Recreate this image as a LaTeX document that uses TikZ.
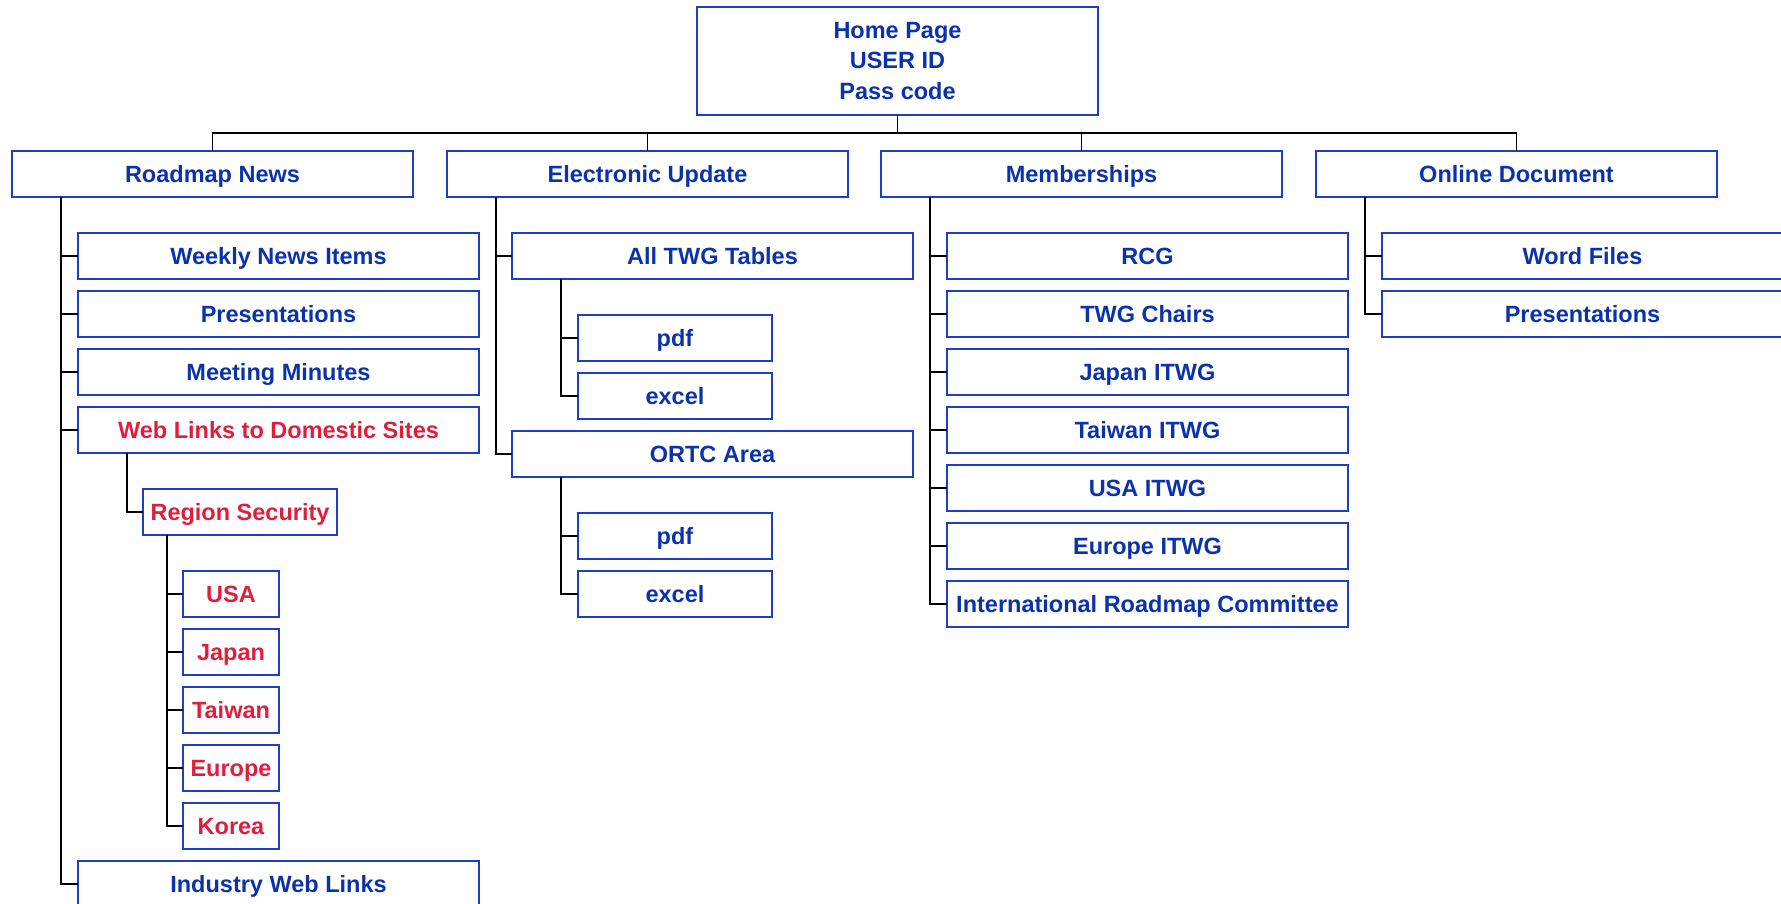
\documentclass[tikz,border=0pt]{standalone}
\usepackage{fontspec}
\setmainfont{Liberation Sans}
\definecolor{txtblue}{RGB}{10,50,170}
\definecolor{txtred}{RGB}{222,30,60}
\definecolor{boxblue}{RGB}{30,62,200}
\tikzset{
  box/.style={draw=boxblue, line width=1.8pt, anchor=north west, inner sep=0pt, outer sep=0pt,
    minimum height=46pt, text=txtblue, font=\bfseries\fontsize{23.5}{30.5}\selectfont},
  wide/.style={box, minimum width=401pt, text height=16.8pt, text depth=0pt},
  mid/.style={box, minimum width=194pt, text height=16.8pt, text depth=0pt},
  small/.style={box, minimum width=96pt, text height=16.8pt, text depth=0pt},
  domestic/.style={text=txtred},
  link/.style={line width=1.5pt, black}
}

\begin{document}
\begin{tikzpicture}[x=1pt, y=-1pt]
  \useasboundingbox (0,0) rectangle (1781,904);
  \clip (0,0) rectangle (1781,904);

  \node[box, minimum width=401pt, minimum height=108pt, align=center] (home) at (697,7)
    {Home Page\\USER ID\\Pass code};

  \node[wide] (rn) at (12,151)   {Roadmap News};
  \node[wide] (eu) at (447,151)  {Electronic Update};
  \node[wide] (mb) at (881,151)  {Memberships};
  \node[wide] (od) at (1316,151) {Online Document};

  % roadmap news
  \node[wide] (wk) at (78,233) {Weekly News Items};
  \node[wide] (pr) at (78,291) {Presentations};
  \node[wide] (mm) at (78,349) {Meeting Minutes};
  \node[wide, domestic] (wl) at (78,407) {Web Links to Domestic Sites};
  \node[mid, domestic] (rs) at (143,489) {Region Security};
  \node[small, domestic] (usa) at (183,571) {USA};
  \node[small, domestic] (jp)  at (183,629) {Japan};
  \node[small, domestic] (tw)  at (183,687) {Taiwan};
  \node[small, domestic] (eur) at (183,745) {Europe};
  \node[small, domestic] (kr)  at (183,803) {Korea};
  \node[wide] (iw) at (78,861) {Industry Web Links};

  % electronic update
  \node[wide] (twg)  at (512,233) {All TWG Tables};
  \node[mid]  (pdfa) at (578,315) {pdf};
  \node[mid]  (xla)  at (578,373) {excel};
  \node[wide] (ortc) at (512,431) {ORTC Area};
  \node[mid]  (pdfb) at (578,513) {pdf};
  \node[mid]  (xlb)  at (578,571) {excel};

  % memberships
  \node[wide] (rcg)  at (947,233) {RCG};
  \node[wide] (tc)   at (947,291) {TWG Chairs};
  \node[wide] (jpi)  at (947,349) {Japan ITWG};
  \node[wide] (twi)  at (947,407) {Taiwan ITWG};
  \node[wide] (usi)  at (947,465) {USA ITWG};
  \node[wide] (eui)  at (947,523) {Europe ITWG};
  \node[wide] (irc)  at (947,581) {International Roadmap Committee};

  % online document
  \node[wide] (wf)  at (1382,233) {Word Files};
  \node[wide] (opr) at (1382,291) {Presentations};

  \coordinate (bus) at (home.south |- 0,133);
  \draw[link] (home.south) -- (bus);
  \draw[link] (rn.north) |- (bus) -| (od.north);
  \draw[link] (eu.north) -- (eu.north |- bus);
  \draw[link] (mb.north) -- (mb.north |- bus);

  \foreach \c in {wk,pr,mm,wl,iw}
    \draw[link] ([xshift=49pt]rn.south west) |- (\c.west);
  \draw[link] ([xshift=49pt]wl.south west) |- (rs.west);
  \foreach \c in {usa,jp,tw,eur,kr}
    \draw[link] ([xshift=24pt]rs.south west) |- (\c.west);

  \foreach \c in {twg,ortc}
    \draw[link] ([xshift=49pt]eu.south west) |- (\c.west);
  \foreach \c in {pdfa,xla}
    \draw[link] ([xshift=49pt]twg.south west) |- (\c.west);
  \foreach \c in {pdfb,xlb}
    \draw[link] ([xshift=49pt]ortc.south west) |- (\c.west);

  \foreach \c in {rcg,tc,jpi,twi,usi,eui,irc}
    \draw[link] ([xshift=49pt]mb.south west) |- (\c.west);

  \foreach \c in {wf,opr}
    \draw[link] ([xshift=49pt]od.south west) |- (\c.west);
\end{tikzpicture}
\end{document}
